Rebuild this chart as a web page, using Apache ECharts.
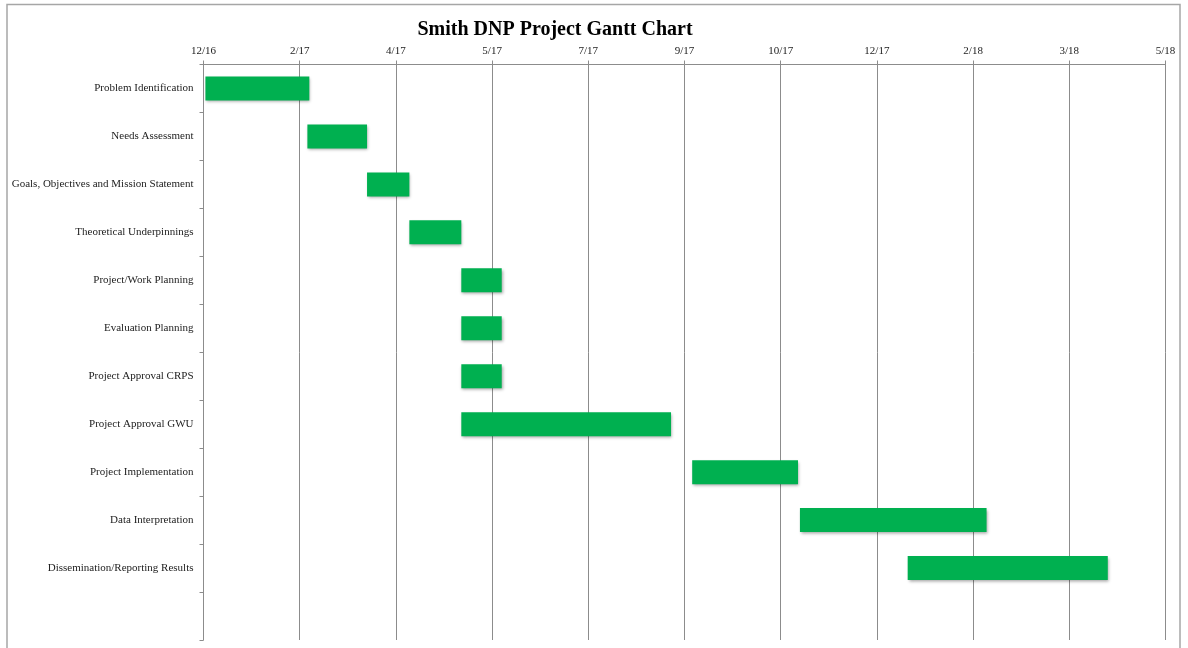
<!DOCTYPE html>
<html>
<head>
<meta charset="utf-8">
<title>Smith DNP Project Gantt Chart</title>
<script src="https://cdn.jsdelivr.net/npm/echarts@6/dist/echarts.min.js"></script>
<style>
  html, body { margin: 0; padding: 0; background: #fff; }
  #main { width: 1188px; height: 648px; }
</style>
</head>
<body>
<div id="main"></div>
<script>
// tasks, top to bottom (last row is left empty in the original)
const tasks = [
  'Problem Identification',
  'Needs Assessment',
  'Goals, Objectives and Mission Statement',
  'Theoretical Underpinnings',
  'Project/Work Planning',
  'Evaluation Planning',
  'Project Approval CRPS',
  'Project Approval GWU',
  'Project Implementation',
  'Data Interpretation',
  'Dissemination/Reporting Results',
  ''
];

// start / end dates
const startDates = [
  '2017-01-01', '2017-02-23', '2017-03-26', '2017-04-17', '2017-05-14', '2017-05-14',
  '2017-05-14', '2017-05-14', '2017-09-11', '2017-11-06', '2018-01-01'
];
const endDates = [
  '2017-02-24', '2017-03-26', '2017-04-17', '2017-05-14', '2017-06-04', '2017-06-04',
  '2017-06-04', '2017-08-31', '2017-11-05', '2018-02-11', '2018-04-15'
];

// axis origin and step (days), labels as shown on the top axis
const axisStart = '2016-12-31';
const axisStep = 50;
const tickLabels = ['12/16', '2/17', '4/17', '5/17', '7/17', '9/17', '10/17', '12/17', '2/18', '3/18', '5/18'];

const DAY = 24 * 3600 * 1000;
function dayOf(s) {
  return Math.round((Date.parse(s + 'T00:00:00Z') - Date.parse(axisStart + 'T00:00:00Z')) / DAY);
}

const data = startDates.map((s, i) => [i, dayOf(s), dayOf(endDates[i])]);

function renderItem(params, api) {
  const a = api.coord([api.value(1), api.value(0)]);
  const b = api.coord([api.value(2), api.value(0)]);
  const h = api.size([0, 1])[1] * 0.5;
  return {
    type: 'rect',
    shape: { x: a[0], y: a[1] - h / 2, width: b[0] - a[0], height: h },
    style: {
      fill: '#00b050',
      shadowBlur: 3,
      shadowOffsetX: 1,
      shadowOffsetY: 2,
      shadowColor: 'rgba(0,0,0,0.35)'
    }
  };
}

const chart = echarts.init(document.getElementById('main'), null, { renderer: 'canvas' });

const serif = '"Liberation Serif", "Times New Roman", serif';

const option = {
  animation: false,
  backgroundColor: '#fff',
  textStyle: { fontFamily: serif },
  title: {
    text: 'Smith DNP Project Gantt Chart',
    left: 550,
    top: 15,
    textAlign: 'center',
    textStyle: { fontFamily: serif, fontSize: 20, fontWeight: 'bold', color: '#000' }
  },
  graphic: [{
    type: 'rect',
    shape: { x: 7, y: 4.5, width: 1173, height: 700 },
    style: { fill: 'none', stroke: '#a6a6a6', lineWidth: 1.5 },
    silent: true
  }],
  grid: { left: 203.5, right: 22.5, top: 64.5, bottom: 8 },
  xAxis: {
    type: 'value',
    position: 'top',
    min: 0,
    max: axisStep * (tickLabels.length - 1),
    interval: axisStep,
    axisLine: { show: true, lineStyle: { color: '#8c8c8c', width: 1 } },
    axisTick: { show: true, length: 4, lineStyle: { color: '#8c8c8c' } },
    axisLabel: {
      margin: 8,
      fontFamily: serif,
      fontSize: 11,
      color: '#222',
      formatter: v => tickLabels[Math.round(v / axisStep)]
    },
    splitLine: { show: true, lineStyle: { color: '#8c8c8c', width: 1 } }
  },
  yAxis: {
    type: 'category',
    inverse: true,
    data: tasks,
    axisLine: { show: true, lineStyle: { color: '#8c8c8c', width: 1 } },
    axisTick: { show: true, length: 4, lineStyle: { color: '#8c8c8c' } },
    axisLabel: { margin: 10, fontFamily: serif, fontSize: 11, color: '#222' },
    splitLine: { show: false }
  },
  series: [{
    type: 'custom',
    renderItem: renderItem,
    encode: { x: [1, 2], y: 0 },
    data: data
  }]
};

chart.setOption(option);
</script>
</body>
</html>
